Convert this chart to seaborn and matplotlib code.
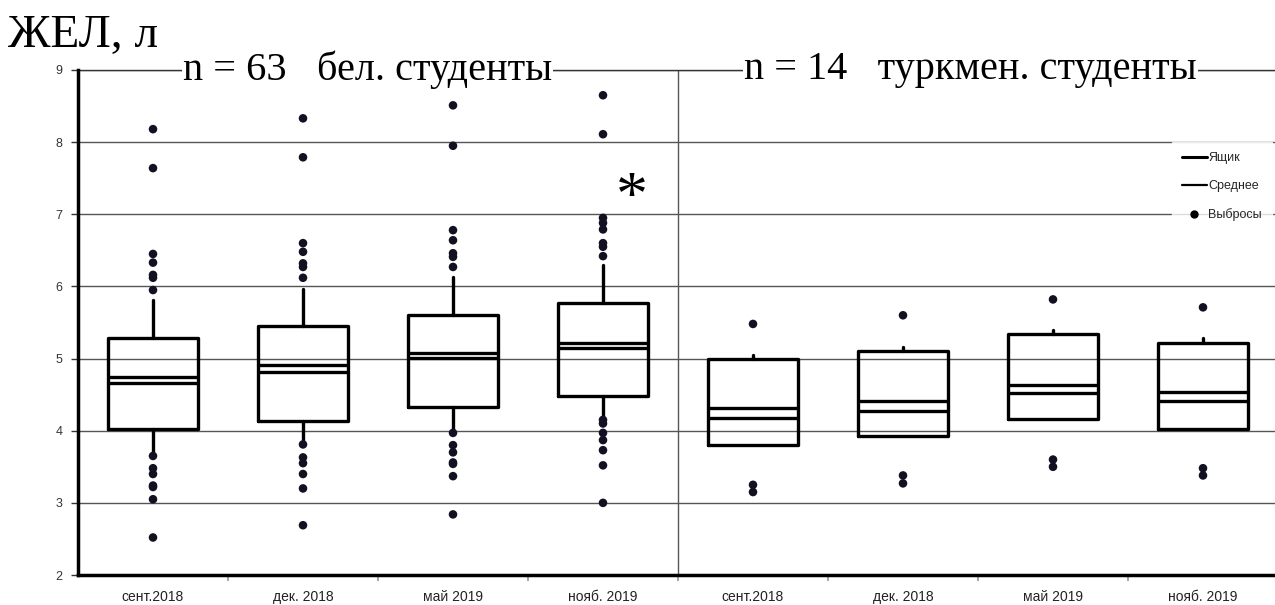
import numpy as np
import pandas as pd
import seaborn as sns
import matplotlib.pyplot as plt
from matplotlib.lines import Line2D

# box statistics (litres)
periods = ['сент.2018', 'дек. 2018', 'май 2019', 'нояб. 2019',
           'сент.2018', 'дек. 2018', 'май 2019', 'нояб. 2019']
q1 = [4.02, 4.13, 4.33, 4.48, 3.80, 3.92, 4.16, 4.03]
q3 = [5.29, 5.45, 5.60, 5.77, 4.99, 5.10, 5.34, 5.21]
median = [4.66, 4.82, 5.01, 5.14, 4.17, 4.28, 4.52, 4.41]
mean = [4.74, 4.91, 5.08, 5.21, 4.31, 4.41, 4.64, 4.53]
whis_lo = [3.70, 3.85, 3.98, 4.12, 3.80, 3.92, 4.16, 4.03]
whis_hi = [5.81, 5.96, 6.13, 6.30, 5.05, 5.16, 5.39, 5.28]

outliers = [
    [8.18, 7.64, 6.45, 6.33, 6.16, 6.12, 5.95, 3.65, 3.48, 3.40, 3.24, 3.22, 3.05, 2.52],
    [8.33, 7.79, 6.60, 6.48, 6.32, 6.27, 6.12, 3.81, 3.63, 3.55, 3.40, 3.20, 2.69],
    [8.51, 7.95, 6.78, 6.64, 6.46, 6.41, 6.27, 3.97, 3.80, 3.70, 3.56, 3.54, 3.37, 2.84],
    [8.65, 8.11, 6.95, 6.88, 6.79, 6.60, 6.55, 6.42, 4.15, 4.10, 3.97, 3.87, 3.73, 3.52, 3.00],
    [5.48, 3.25, 3.15],
    [5.60, 3.38, 3.27],
    [5.82, 3.60, 3.50],
    [5.71, 3.48, 3.38],
]

group_titles = ['n = 63   бел. студенты', 'n = 14   туркмен. студенты']

sns.set_theme(style='white')
plt.rcParams['font.family'] = ['Liberation Sans Narrow', 'Liberation Sans']

fig = plt.figure(figsize=(12.75, 6.05), dpi=100)
ax = fig.add_axes([78 / 1275, 30 / 605, 1200 / 1275, 505 / 605])

stats = []
for i in range(len(periods)):
    stats.append(dict(med=median[i], q1=q1[i], q3=q3[i], mean=mean[i],
                      whislo=whis_lo[i], whishi=whis_hi[i], fliers=[]))

box_kw = dict(color='black', linewidth=2.4)
ax.bxp(stats, positions=range(len(periods)), widths=0.6, showcaps=False,
       showmeans=True, meanline=True, patch_artist=False,
       boxprops=box_kw, whiskerprops=box_kw, medianprops=box_kw,
       meanprops=dict(color='black', linewidth=2.4, linestyle='-'))

# outliers through seaborn
rows = []
for i, vals in enumerate(outliers):
    for v in vals:
        rows.append({'pos': i, 'value': v})
df = pd.DataFrame(rows)
sns.scatterplot(data=df, x='pos', y='value', ax=ax, color='#111122',
                s=38, edgecolor='none', zorder=4, legend=False)

ax.set_xlim(-0.5, 7.5)
ax.set_ylim(2, 9)

# grid
ax.set_yticks(range(2, 10))
ax.yaxis.grid(True, color='#555555', linewidth=1)
ax.set_axisbelow(True)
ax.tick_params(axis='y', labelsize=9, colors='#333333', length=5, width=1,
               left=True, pad=6)

# x ticks: marks between categories, labels at centers
ax.set_xticks(np.arange(0.5, 7.5, 1.0))
ax.set_xticklabels([])
ax.tick_params(axis='x', which='major', length=4, color='#999999', bottom=True)
ax.set_xticks(range(len(periods)), minor=True)
ax.set_xticklabels(periods, minor=True, fontsize=10)
ax.tick_params(axis='x', which='minor', length=0, pad=19, labelcolor='#222222')
for lbl in ax.get_xticklabels(minor=True):
    lbl.set_verticalalignment('baseline')
ax.set_xlabel('')
ax.set_ylabel('')

for side in ['top', 'right']:
    ax.spines[side].set_visible(False)
for side in ['left', 'bottom']:
    ax.spines[side].set_color('black')
    ax.spines[side].set_linewidth(2.5)

# divider between cohorts and top line with group titles
ax.axvline(3.5, color='#555555', linewidth=1, zorder=1)
ax.axhline(9, color='#333333', linewidth=1, clip_on=False)
for x, t in zip([1.43, 5.45], group_titles):
    ax.text(x, 9, t, ha='center', va='center', fontsize=29,
            family='Liberation Serif', color='black',
            bbox=dict(facecolor='white', edgecolor='none', pad=1), zorder=5)

ax.text(3.19, 7.20, '*', ha='center', va='center', fontsize=46,
        family='Liberation Serif', color='black')

fig.text(8 / 1275, 1 - 47 / 605, 'ЖЕЛ, л', ha='left', va='baseline',
         fontsize=34, family='Liberation Serif', color='black')

handles = [Line2D([], [], color='black', linewidth=2.2),
           Line2D([], [], color='black', linewidth=1.6),
           Line2D([], [], color='black', marker='o', linestyle='none', markersize=5)]
leg = ax.legend(handles, ['Ящик', 'Среднее', 'Выбросы'], loc='upper right',
                bbox_to_anchor=(1.0, 0.87), frameon=True, fontsize=9,
                handlelength=2.0, handletextpad=0.1, labelspacing=1.3,
                borderpad=0.8, fancybox=False)
leg.get_frame().set_facecolor('white')
leg.get_frame().set_edgecolor('white')
leg.set_zorder(6)

fig.savefig('out.png', dpi=100, facecolor='white')
